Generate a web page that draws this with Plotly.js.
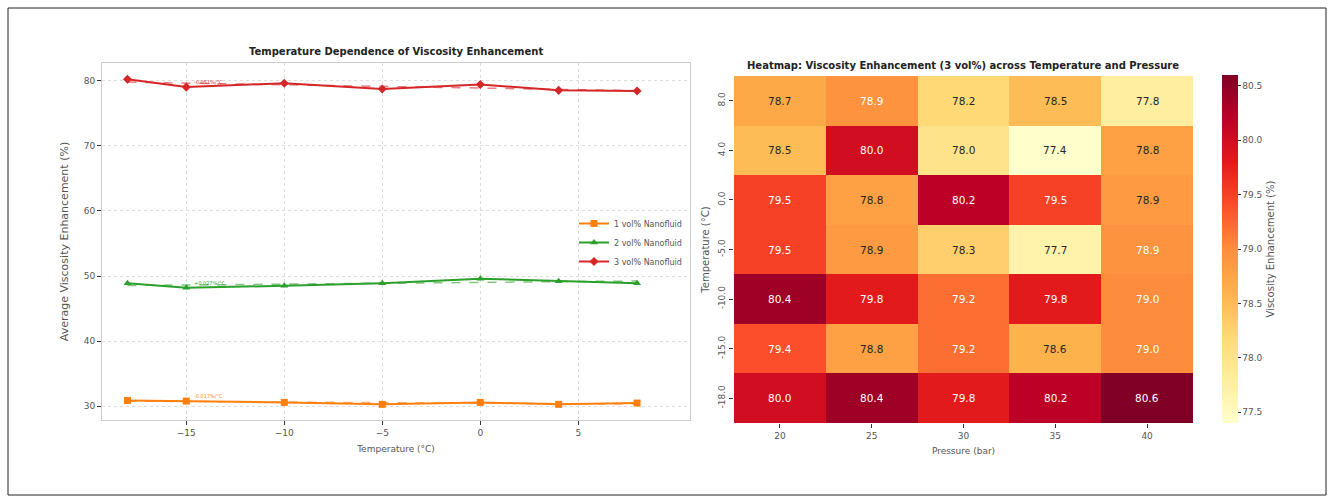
<!DOCTYPE html>
<html>
<head>
<meta charset="utf-8">
<script src="https://cdn.plot.ly/plotly-3.0.1.min.js"></script>
<style>
html,body{margin:0;padding:0;background:#fff;}
#chart{width:1333px;height:504px;}
</style>
</head>
<body>
<div id="chart"></div>
<script>
// ---- data ----
const temperatures = [-18, -15, -10, -5, 0, 4, 8];
const vol1 = [30.9, 30.8, 30.6, 30.3, 30.6, 30.3, 30.5];
const vol2 = [48.9, 48.2, 48.5, 48.9, 49.6, 49.2, 48.9];
const vol3 = [80.2, 79.0, 79.6, 78.7, 79.4, 78.5, 78.4];
const seriesNames = ['1 vol% Nanofluid', '2 vol% Nanofluid', '3 vol% Nanofluid'];
const pressures = [20, 25, 30, 35, 40];
// heatmap rows follow temperatures (-18 ... 8)
const heatRowM18 = [80.0, 80.4, 79.8, 80.2, 80.6];
const heatRowM15 = [79.4, 78.8, 79.2, 78.6, 79.0];
const heatRowM10 = [80.4, 79.8, 79.2, 79.8, 79.0];
const heatRowM5  = [79.5, 78.86, 78.3, 77.7, 78.94];
const heatRow0   = [79.5, 78.8, 80.2, 79.5, 78.86];
const heatRow4   = [78.5, 80.0, 78.0, 77.4, 78.8];
const heatRow8   = [78.7, 78.94, 78.2, 78.5, 77.8];
const heatZ = [heatRowM18, heatRowM15, heatRowM10, heatRowM5, heatRow0, heatRow4, heatRow8];

// ---- helpers ----
const W = 1333, H = 504;
const px = v => v / W, py = v => 1 - v / H;
const colors = ['#ff7f0e', '#2ca02c', '#d62728'];
const symbols = ['square', 'triangle-up', 'diamond'];
const font = 'DejaVu Sans, Liberation Sans, sans-serif';

function fit(x, y) {
  const n = x.length;
  const mx = x.reduce((a, b) => a + b, 0) / n, my = y.reduce((a, b) => a + b, 0) / n;
  let sxy = 0, sxx = 0;
  for (let i = 0; i < n; i++) { sxy += (x[i] - mx) * (y[i] - my); sxx += (x[i] - mx) ** 2; }
  const m = sxy / sxx; return { m: m, b: my - m * mx };
}

const traces = [];
const annotations = [];
[vol1, vol2, vol3].forEach((ys, i) => {
  traces.push({
    x: temperatures, y: ys, type: 'scatter', mode: 'lines+markers', name: seriesNames[i],
    line: { color: colors[i], width: 2 },
    marker: { color: colors[i], symbol: symbols[i], size: 7 },
    xaxis: 'x', yaxis: 'y'
  });
  const f = fit(temperatures, ys);
  traces.push({
    x: temperatures, y: temperatures.map(t => f.m * t + f.b), type: 'scatter', mode: 'lines',
    line: { color: colors[i], width: 1.5, dash: 'dash' }, opacity: 0.6, showlegend: false,
    hoverinfo: 'skip', xaxis: 'x', yaxis: 'y'
  });
  annotations.push({
    x: temperatures[1] + 0.3, y: ys[1], xref: 'x', yref: 'y', xanchor: 'left', yanchor: 'bottom',
    text: (f.m >= 0 ? '+' : '') + f.m.toFixed(3) + '%/°C', showarrow: false,
    font: { family: font, size: 5, color: colors[i] }
  });
});

const yLabels = temperatures.map(t => t.toFixed(1));
const xLabels = pressures.map(p => String(p));
const zFlat = heatZ.flat();
const zmin = Math.min(...zFlat), zmax = Math.max(...zFlat);
const ylorrd = ['#ffffcc', '#ffeda0', '#fed976', '#feb24c', '#fd8d3c', '#fc4e2a', '#e31a1c', '#bd0026', '#800026'];
traces.push({
  type: 'heatmap', x: xLabels, y: yLabels, z: heatZ, xaxis: 'x2', yaxis: 'y2',
  zmin: zmin, zmax: zmax,
  colorscale: ylorrd.map((c, i) => [i / (ylorrd.length - 1), c]),
  showscale: true,
  colorbar: {
    x: px(1222), xanchor: 'left', xpad: 0, ypad: 0, thickness: 16,
    y: py(249), yanchor: 'middle', len: (423 - 75) / H, lenmode: 'fraction',
    outlinewidth: 0, tickmode: 'linear', tick0: 77.5, dtick: 0.5, tickformat: '.1f',
    ticks: 'outside', ticklen: 3, tickcolor: '#333', tickfont: { family: font, size: 9, color: '#555' },
    title: { text: 'Viscosity Enhancement (%)', side: 'right', font: { family: font, size: 10, color: '#555' } }
  },
  hoverongaps: false
});
heatZ.forEach((row, r) => row.forEach((v, c) => {
  annotations.push({
    x: c, y: r, xref: 'x2', yref: 'y2', showarrow: false,
    text: v.toFixed(1), font: { family: font, size: 10.5, color: v >= 78.9 ? '#ffffff' : '#262626' }
  });
}));

annotations.push({
  x: px(396), y: py(52), xref: 'paper', yref: 'paper', showarrow: false, xanchor: 'center', yanchor: 'middle',
  text: '<b>Temperature Dependence of Viscosity Enhancement</b>', font: { family: font, size: 10, color: '#222' }
});
annotations.push({
  x: px(963), y: py(66), xref: 'paper', yref: 'paper', showarrow: false, xanchor: 'center', yanchor: 'middle',
  text: '<b>Heatmap: Viscosity Enhancement (3 vol%) across Temperature and Pressure</b>', font: { family: font, size: 10, color: '#222' }
});

const layout = {
  width: W, height: H, margin: { l: 0, r: 0, t: 0, b: 0 },
  paper_bgcolor: '#fff', plot_bgcolor: '#fff', font: { family: font, size: 9, color: '#555' },
  showlegend: true,
  legend: {
    x: px(574), y: py(209), xanchor: 'left', yanchor: 'top', bgcolor: 'rgba(255,255,255,0)',
    font: { family: font, size: 8, color: '#555' }, tracegroupgap: 0, itemwidth: 30
  },
  xaxis: {
    domain: [px(102), px(690)], anchor: 'y', range: [-19.3, 10.7],
    tickmode: 'array', tickvals: [-15, -10, -5, 0, 5], ticktext: ['−15', '−10', '−5', '0', '5'],
    ticks: 'outside', ticklen: 4, tickcolor: '#333', tickfont: { family: font, size: 9, color: '#555' },
    showgrid: true, gridcolor: '#dddddd', griddash: '3px,3px', gridwidth: 1,
    showline: true, mirror: true, linecolor: '#cccccc', linewidth: 1, zeroline: false,
    title: { text: 'Temperature (°C)', font: { family: font, size: 9, color: '#555' }, standoff: 8 }
  },
  yaxis: {
    domain: [py(420), py(63)], anchor: 'x', range: [27.9, 82.7],
    tickmode: 'linear', tick0: 30, dtick: 10,
    ticks: 'outside', ticklen: 4, tickcolor: '#333', tickfont: { family: font, size: 9, color: '#555' },
    showgrid: true, gridcolor: '#dddddd', griddash: '3px,3px', gridwidth: 1,
    showline: true, mirror: true, linecolor: '#cccccc', linewidth: 1, zeroline: false,
    title: { text: 'Average Viscosity Enhancement (%)', font: { family: font, size: 11, color: '#555' }, standoff: 12 }
  },
  xaxis2: {
    domain: [px(734), px(1193)], anchor: 'y2', type: 'category', range: [-0.5, pressures.length - 0.5],
    ticks: 'outside', ticklen: 4, tickcolor: '#333', tickfont: { family: font, size: 9, color: '#555' },
    showgrid: false, zeroline: false, showline: false,
    title: { text: 'Pressure (bar)', font: { family: font, size: 9, color: '#555' }, standoff: 7 }
  },
  yaxis2: {
    domain: [py(423), py(76)], anchor: 'x2', type: 'category', range: [-0.5, temperatures.length - 0.5],
    ticks: 'outside', ticklen: 4, tickcolor: '#333', tickangle: -90, tickfont: { family: font, size: 9, color: '#555' },
    showgrid: false, zeroline: false, showline: false,
    title: { text: 'Temperature (°C)', font: { family: font, size: 10, color: '#555' }, standoff: 5 }
  },
  annotations: annotations,
  shapes: [{
    type: 'rect', xref: 'paper', yref: 'paper', x0: px(8), x1: px(1326), y0: py(495), y1: py(8),
    line: { color: '#222', width: 1 }, fillcolor: 'rgba(0,0,0,0)', layer: 'below'
  }]
};

Plotly.newPlot('chart', traces, layout, { displayModeBar: false, staticPlot: true });
</script>
</body>
</html>
